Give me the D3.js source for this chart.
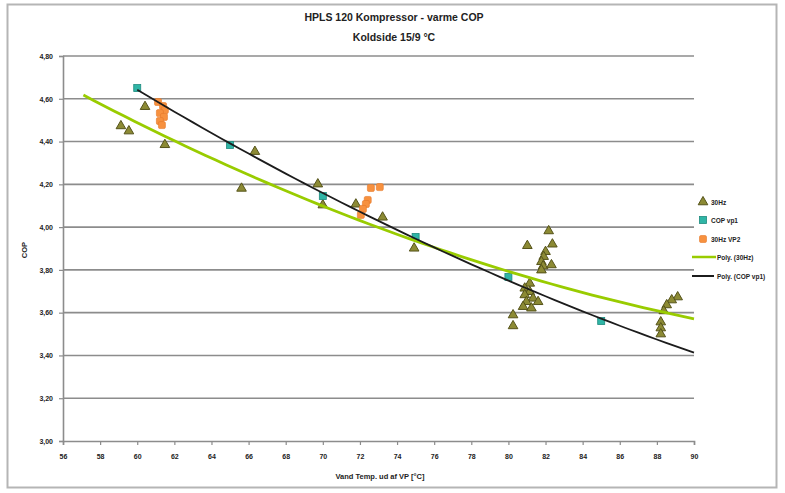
<!DOCTYPE html>
<html>
<head>
<meta charset="utf-8">
<script src="https://cdn.jsdelivr.net/npm/d3@7"></script>
<style>
  html, body { margin: 0; padding: 0; background: #fff; }
  svg { display: block; font-family: "Liberation Sans", Arial, sans-serif; }
</style>
</head>
<body>
<svg id="chart" width="785" height="493"></svg>
<script>
// Water outlet temperature (°C) and COP per measurement series
const hz30X = [59.12, 59.55, 60.42, 61.49, 65.62, 66.34, 69.73, 70.0, 71.78, 73.22, 74.92,
  82.17, 81.02, 82.37, 82.0, 81.9, 81.78, 81.87, 82.32, 81.78, 81.15, 80.88, 81.15, 80.88,
  81.33, 80.97, 81.6, 80.79, 81.24, 80.25, 80.25,
  89.12, 88.8, 88.53, 88.37, 88.21, 88.21, 88.21];
const hz30Y = [4.473, 4.449, 4.563, 4.385, 4.181, 4.353, 4.201, 4.103, 4.107, 4.046, 3.901,
  3.982, 3.913, 3.92, 3.885, 3.862, 3.838, 3.818, 3.823, 3.799, 3.737, 3.714, 3.698, 3.683,
  3.667, 3.651, 3.651, 3.628, 3.621, 3.589, 3.538,
  3.673, 3.659, 3.636, 3.608, 3.556, 3.528, 3.5];

const vp1X = [60, 65, 70, 75, 80, 85];
const vp1Y = [4.65, 4.384, 4.145, 3.954, 3.767, 3.561];

const vp2X = [61.12, 61.39, 61.49, 61.22, 61.44, 61.22, 61.33, 72.59, 73.07, 72.42, 72.32, 72.16, 72.05];
const vp2Y = [4.585, 4.566, 4.547, 4.533, 4.515, 4.496, 4.477, 4.183, 4.187, 4.127, 4.108, 4.085, 4.057];

// Trendline extents (forecast backward/forward along x)
const trend30Range = [57.1, 90];
const trendVp1Range = [60, 90];

// Axis ticks
const xTicks = d3.range(56, 91, 2);
const yTicks = d3.range(3.0, 4.81, 0.2);

const titleLines = ["HPLS 120 Kompressor - varme COP", "Koldside 15/9 °C"];
const xTitle = "Vand Temp. ud af VP [°C]";
const yTitle = "COP";
const legendLabels = ["30Hz", "COP vp1", "30Hz VP2", "Poly. (30Hz)", "Poly. (COP vp1)"];

const colors = {
  tri: "#8c8a34", triStroke: "#55531a",
  teal: "#2fb5a6", tealStroke: "#1e8a7e",
  orange: "#f7913f", orangeStroke: "#e6782a",
  green: "#99cc00", black: "#1c1c1c",
  grid: "#8c8c8c", axis: "#8c8c8c", text: "#222"
};

const svg = d3.select("#chart");
const margin = { left: 63, right: 91, top: 56, bottom: 52 };
const W = 785, H = 493;

const x = d3.scaleLinear().domain([56, 90]).range([margin.left, W - margin.right]);
const y = d3.scaleLinear().domain([3.0, 4.8]).range([H - margin.bottom, margin.top]);

// Outer chart frame
svg.append("rect").attr("x", 7.5).attr("y", 4.5).attr("width", 769).attr("height", 483)
  .attr("fill", "none").attr("stroke", "#b5b5b5").attr("stroke-width", 2);

// Titles
svg.selectAll("text.title").data(titleLines).enter().append("text")
  .attr("x", 394).attr("y", (d, i) => 21 + i * 20)
  .attr("text-anchor", "middle").attr("font-size", 10.5).attr("font-weight", "bold")
  .attr("fill", colors.text).text(d => d);

// Horizontal gridlines
svg.append("g").selectAll("line").data(yTicks.slice(1)).enter().append("line")
  .attr("x1", x(56)).attr("x2", x(90))
  .attr("y1", d => y(d)).attr("y2", d => y(d))
  .attr("stroke", colors.grid).attr("stroke-width", 1.6);

// Axes
const fmtY = d => d3.format(".2f")(d).replace(".", ",");
const yAxis = d3.axisLeft(y).tickValues(yTicks).tickFormat(fmtY).tickSize(4).tickPadding(6);
const xAxis = d3.axisBottom(x).tickValues(xTicks).tickFormat(d3.format("d")).tickSize(4).tickPadding(9);

const gy = svg.append("g").attr("transform", `translate(${x(56)},0)`).call(yAxis);
const gx = svg.append("g").attr("transform", `translate(0,${y(3.0)})`).call(xAxis);
[gx, gy].forEach(g => {
  g.select(".domain").attr("stroke", colors.axis).attr("stroke-width", 1.6);
  g.selectAll(".tick line").attr("stroke", colors.axis).attr("stroke-width", 1.2);
  g.selectAll(".tick text").attr("font-size", 7).attr("font-weight", "bold")
    .attr("fill", colors.text).attr("font-family", "Liberation Sans, Arial, sans-serif");
});

// Axis titles
svg.append("text").attr("x", 380).attr("y", 479).attr("text-anchor", "middle")
  .attr("font-size", 7.5).attr("font-weight", "bold").attr("fill", colors.text).text(xTitle);
svg.append("text").attr("transform", "translate(27,250) rotate(-90)").attr("text-anchor", "middle")
  .attr("font-size", 7.5).attr("font-weight", "bold").attr("fill", colors.text).text(yTitle);

// Second order least squares fit
function polyFit2(xs, ys) {
  const mx = d3.mean(xs);
  let s = [0, 0, 0, 0, 0], t = [0, 0, 0];
  xs.forEach((xv, i) => {
    const u = xv - mx;
    for (let k = 0; k <= 4; k++) s[k] += Math.pow(u, k);
    for (let k = 0; k <= 2; k++) t[k] += ys[i] * Math.pow(u, k);
  });
  const A = [[s[0], s[1], s[2]], [s[1], s[2], s[3]], [s[2], s[3], s[4]]];
  const b = t.slice();
  // Gaussian elimination
  for (let c = 0; c < 3; c++) {
    for (let r = c + 1; r < 3; r++) {
      const f = A[r][c] / A[c][c];
      for (let k = c; k < 3; k++) A[r][k] -= f * A[c][k];
      b[r] -= f * b[c];
    }
  }
  const coef = [0, 0, 0];
  for (let r = 2; r >= 0; r--) {
    let v = b[r];
    for (let k = r + 1; k < 3; k++) v -= A[r][k] * coef[k];
    coef[r] = v / A[r][r];
  }
  return xv => { const u = xv - mx; return coef[0] + coef[1] * u + coef[2] * u * u; };
}

const fit30 = polyFit2(hz30X, hz30Y);
const fitVp1 = polyFit2(vp1X, vp1Y);
const line = d3.line().x(d => x(d[0])).y(d => y(d[1]));
const sample = (f, r) => d3.range(0, 61).map(i => { const xv = r[0] + (r[1] - r[0]) * i / 60; return [xv, f(xv)]; });

// Markers
const triPath = d3.symbol().type(d3.symbolTriangle).size(40);

svg.append("g").selectAll("path").data(hz30X.map((d, i) => [d, hz30Y[i]])).enter().append("path")
  .attr("d", triPath).attr("transform", d => `translate(${x(d[0])},${y(d[1])})`)
  .attr("fill", colors.tri).attr("stroke", colors.triStroke).attr("stroke-width", 1);

svg.append("g").selectAll("rect").data(vp1X.map((d, i) => [d, vp1Y[i]])).enter().append("rect")
  .attr("x", d => x(d[0]) - 3.5).attr("y", d => y(d[1]) - 3.5).attr("width", 7).attr("height", 7)
  .attr("fill", colors.teal).attr("stroke", colors.tealStroke).attr("stroke-width", 0.8);

svg.append("g").selectAll("rect").data(vp2X.map((d, i) => [d, vp2Y[i]])).enter().append("rect")
  .attr("x", d => x(d[0]) - 3.5).attr("y", d => y(d[1]) - 3.5).attr("width", 7).attr("height", 7)
  .attr("rx", 1.5).attr("fill", colors.orange).attr("stroke", colors.orangeStroke).attr("stroke-width", 0.6);

// Trendlines
svg.append("path").attr("d", line(sample(fit30, trend30Range)))
  .attr("fill", "none").attr("stroke", colors.green).attr("stroke-width", 2.8);
svg.append("path").attr("d", line(sample(fitVp1, trendVp1Range)))
  .attr("fill", "none").attr("stroke", colors.black).attr("stroke-width", 1.8);

// Legend
const lg = svg.append("g");
const rowY = [202, 220, 239, 257, 276];
lg.append("path").attr("d", triPath).attr("transform", `translate(703,${rowY[0]})`)
  .attr("fill", colors.tri).attr("stroke", colors.triStroke);
lg.append("rect").attr("x", 699.5).attr("y", rowY[1] - 3.5).attr("width", 7).attr("height", 7)
  .attr("fill", colors.teal).attr("stroke", colors.tealStroke).attr("stroke-width", 0.8);
lg.append("rect").attr("x", 699.5).attr("y", rowY[2] - 3.5).attr("width", 7).attr("height", 7).attr("rx", 1.5)
  .attr("fill", colors.orange).attr("stroke", colors.orangeStroke).attr("stroke-width", 0.6);
lg.append("line").attr("x1", 692).attr("x2", 716).attr("y1", rowY[3]).attr("y2", rowY[3])
  .attr("stroke", colors.green).attr("stroke-width", 2.5);
lg.append("line").attr("x1", 692).attr("x2", 714).attr("y1", rowY[4]).attr("y2", rowY[4])
  .attr("stroke", colors.black).attr("stroke-width", 2);
lg.selectAll("text").data(legendLabels).enter().append("text")
  .attr("x", (d, i) => i < 3 ? 711 : 717).attr("y", (d, i) => rowY[i] + 2.5)
  .attr("font-size", 6.5).attr("font-weight", "bold").attr("fill", colors.text).text(d => d);
</script>
</body>
</html>
